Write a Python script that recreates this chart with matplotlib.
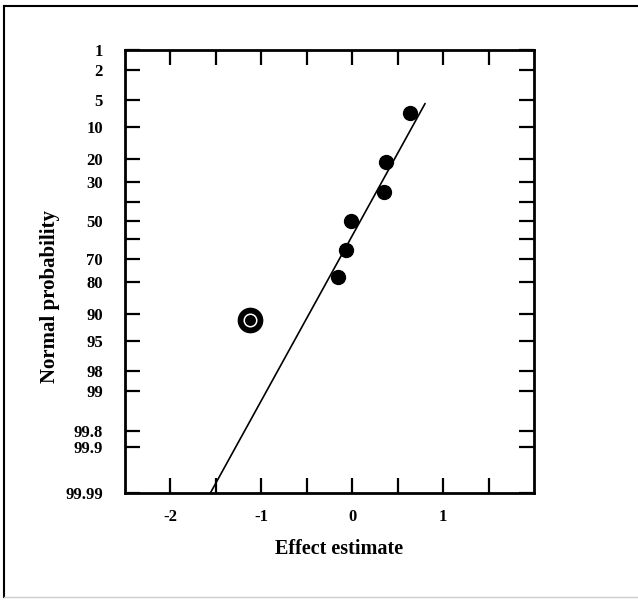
from statistics import NormalDist
import numpy as np
import matplotlib
matplotlib.use("Agg")
import matplotlib.pyplot as plt
from matplotlib.lines import Line2D

plt.rcParams['font.family'] = ['Liberation Serif', 'DejaVu Serif']
plt.rcParams['font.weight'] = 'bold'

# effect estimates and their normal probabilities (percent)
effects = [0.64, 0.37, 0.35, -0.01, -0.07, -0.16]
probs = [7.1, 21.3, 34.8, 50.4, 65.5, 78.0]
# the outlying (circled) effect
outlier_effect = [-1.12]
outlier_prob = [91.2]
# reference line end points
line_effect = [-1.56, 0.80]
line_prob = [99.99, 5.5]

prob_ticks = [1, 2, 5, 10, 20, 30, 50, 70, 80, 90, 95, 98, 99, 99.8, 99.9, 99.99]
prob_labels = ['1', '2', '5', '10', '20', '30', '50', '70', '80', '90', '95', '98', '99', '99.8', '99.9', '99.99']
extra_prob_ticks = [40, 60]
x_major = [-2, -1, 0, 1]
x_labels = ['-2', '-1', '0', '1']
x_minor = [-1.5, -0.5, 0.5, 1.5]

nd = NormalDist()


def z(p):
    return np.array([nd.inv_cdf(v / 100.0) for v in np.atleast_1d(p)])


fig = plt.figure(figsize=(6.38, 6.01), dpi=100)
ax = fig.add_axes([0.196, 0.180, 0.641, 0.736])

ax.plot(line_effect, z(line_prob), color='black', lw=1.2, zorder=2)
ax.plot(effects, z(probs), 'o', color='black', ms=10, zorder=3)
# circled point
ax.plot(outlier_effect, z(outlier_prob), 'o', color='black', ms=17.5, zorder=3)
ax.plot(outlier_effect, z(outlier_prob), 'o', mfc='none', mec='white', mew=1.1, ms=9, zorder=4)

ax.set_xlim(-2.5, 2.0)
ax.set_ylim(z(99.99)[0], z(1)[0])

ax.set_xticks(x_major)
ax.set_xticklabels(x_labels)
ax.set_xticks(x_minor, minor=True)
ax.set_yticks(z(prob_ticks))
ax.set_yticklabels(prob_labels)
ax.set_yticks(z(extra_prob_ticks), minor=True)

ax.tick_params(which='both', direction='in', length=11, width=1.6,
               top=True, right=True, labelsize=12)
ax.tick_params(axis='y', pad=16)
ax.tick_params(axis='x', pad=12)
for s in ax.spines.values():
    s.set_linewidth(2.0)

ax.set_xlabel('Effect estimate', fontsize=14.5, fontweight='bold')
ax.set_ylabel('Normal probability', fontsize=15, fontweight='bold')
ax.xaxis.set_label_coords(0.523, -0.105)
ax.yaxis.set_label_coords(-0.158, 0.443)

# outer frame of the figure
fig.add_artist(Line2D([0.006, 1.0], [0.990, 0.990], color='black', lw=1.5))
fig.add_artist(Line2D([0.006, 0.006], [0.006, 0.990], color='black', lw=1.5))
fig.add_artist(Line2D([0.006, 1.0], [0.006, 0.006], color='#cccccc', lw=1.0))

fig.savefig('out.png', dpi=100)
